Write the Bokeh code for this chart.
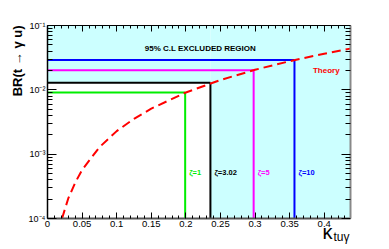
from bokeh.plotting import figure
from bokeh.models import Range1d, LinearAxis, LogAxis, FixedTicker, Label, Title
from bokeh.embed import file_html
from bokeh.resources import INLINE

# ---------------- data ----------------
# limits for each xi value: kappa limit and BR limit
xi_labels = ["ζ=1", "ζ=3.02", "ζ=5", "ζ=10"]
xi_colors = ["#00ee00", "#000000", "#ff00ff", "#0000ff"]
kappa_limit = [0.199, 0.2355, 0.298, 0.357]
br_limit = [0.00905, 0.01294, 0.0201, 0.0291]

# theory curve
theory_kappa = [0.021, 0.03, 0.04, 0.05, 0.075, 0.1, 0.125, 0.15, 0.2, 0.25, 0.3, 0.35, 0.4, 0.438]
theory_br = [1.0e-4, 2.05e-4, 3.6e-4, 5.7e-4, 1.28e-3, 2.28e-3, 3.55e-3, 5.1e-3,
             9.1e-3, 1.42e-2, 2.05e-2, 2.79e-2, 3.64e-2, 4.37e-2]

x_ticks = [0, 0.05, 0.1, 0.15, 0.2, 0.25, 0.3, 0.35, 0.4]
x_tick_labels = ["0", "0.05", "0.1", "0.15", "0.2", "0.25", "0.3", "0.35", "0.4"]
y_ticks = [1e-4, 1e-3, 1e-2, 1e-1]
y_tick_labels = ["10⁻⁴", "10⁻³", "10⁻²", "10⁻¹"]

X_MIN, X_MAX = 0.0, 0.438
Y_MIN, Y_MAX = 1e-4, 1e-1

FONT = "Liberation Sans"

p = figure(width=389, height=249, x_axis_type=None, y_axis_type="log",
           x_range=Range1d(X_MIN, X_MAX), y_range=Range1d(Y_MIN, Y_MAX),
           output_backend="svg", toolbar_location=None,
           min_border_left=47, min_border_right=39, min_border_top=25, min_border_bottom=31)
p.yaxis.visible = False
p.grid.visible = False
p.outline_line_color = None
p.background_fill_color = "white"
p.title.visible = False

# ---------------- excluded region ----------------
k_ex = kappa_limit[1]
b_ex = br_limit[1]
p.quad(left=[k_ex, X_MIN], right=[X_MAX, k_ex], bottom=[Y_MIN, b_ex], top=[Y_MAX, Y_MAX],
       fill_color="#ccffff", line_color=None)

# ---------------- limit lines ----------------
p.segment(x0=[X_MIN] * 4, y0=br_limit, x1=kappa_limit, y1=br_limit,
          line_color=xi_colors, line_width=2)
p.segment(x0=kappa_limit, y0=[Y_MIN] * 4, x1=kappa_limit, y1=br_limit,
          line_color=xi_colors, line_width=2)

# ---------------- theory ----------------
p.line(theory_kappa, theory_br, line_color="#ff0000", line_width=2, line_dash="9 5")

# ---------------- axes ----------------
x_minor = [round(i * 0.01, 3) for i in range(0, 44) if i % 5 != 0]
y_minor = [m * 10.0 ** e for e in (-4, -3, -2) for m in range(2, 10)]

def style_x(ax, labels):
    ax.ticker = FixedTicker(ticks=x_ticks, minor_ticks=x_minor)
    ax.major_tick_in = 6
    ax.major_tick_out = 0
    ax.minor_tick_in = 3
    ax.minor_tick_out = 0
    ax.major_tick_line_color = "black"
    ax.minor_tick_line_color = "black"
    ax.major_label_text_font = FONT
    ax.major_label_text_font_size = "9.5px"
    ax.major_label_text_color = "black"
    if labels:
        ax.major_label_overrides = {t: l for t, l in zip(x_ticks, x_tick_labels)}
        ax.major_label_standoff = 2
    else:
        ax.major_label_overrides = {t: "" for t in x_ticks}
        ax.major_label_standoff = 0

def style_y(ax, labels):
    ax.ticker = FixedTicker(ticks=y_ticks, minor_ticks=y_minor)
    ax.major_tick_in = 9
    ax.major_tick_out = 0
    ax.minor_tick_in = 5
    ax.minor_tick_out = 0
    ax.major_tick_line_color = "black"
    ax.minor_tick_line_color = "black"
    ax.major_label_text_font = FONT
    ax.major_label_text_font_size = "9px"
    ax.major_label_text_color = "black"
    if labels:
        ax.major_label_overrides = {t: l for t, l in zip(y_ticks, y_tick_labels)}
        ax.major_label_standoff = 2
    else:
        ax.major_label_overrides = {t: "" for t in y_ticks}
        ax.major_label_standoff = 0

xb = LinearAxis(axis_line_color="#555555", axis_line_width=2)
style_x(xb, True)
xt = LinearAxis(axis_line_color="black", axis_line_width=1)
style_x(xt, False)
yl = LogAxis(axis_line_color="black", axis_line_width=1.5)
style_y(yl, True)
yr = LogAxis(axis_line_color="#888888", axis_line_width=2)
style_y(yr, False)
p.add_layout(xb, "below")
p.add_layout(xt, "above")
p.add_layout(yl, "left")
p.add_layout(yr, "right")

# ---------------- texts ----------------
p.add_layout(Label(x=0.221, y=0.044, text="95% C.L EXCLUDED REGION", text_font=FONT,
                   text_font_style="bold", text_font_size="8px", text_color="black",
                   text_align="center", text_baseline="middle"))
p.add_layout(Label(x=0.403, y=0.0199, text="Theory", text_font=FONT,
                   text_font_style="bold", text_font_size="8px", text_color="#ff0000",
                   text_align="center", text_baseline="middle"))
for k, lab, col in zip(kappa_limit, xi_labels, xi_colors):
    p.add_layout(Label(x=k, y=5.2e-4, x_offset=4, text=lab, text_font=FONT,
                       text_font_style="bold", text_font_size="7.5px", text_color=col,
                       text_align="left", text_baseline="middle"))

# axis titles as side-panel titles (not clipped by the frame)
p.add_layout(Title(text="BR(t → γ u)", text_font=FONT, text_font_style="bold",
                   text_font_size="13px", text_color="black", align="right",
                   vertical_align="bottom", offset=0, standoff=2), "left")
p.add_layout(Title(text="κ", text_font=FONT, text_font_style="normal",
                   text_font_size="20px", text_color="black", align="right",
                   vertical_align="top", offset=18, standoff=-18), "below")
p.add_layout(Title(text="tuγ", text_font=FONT, text_font_style="normal",
                   text_font_size="12px", text_color="black", align="right",
                   vertical_align="top", offset=1, standoff=-12), "below")

open("out.html", "w").write(file_html(p, INLINE))
